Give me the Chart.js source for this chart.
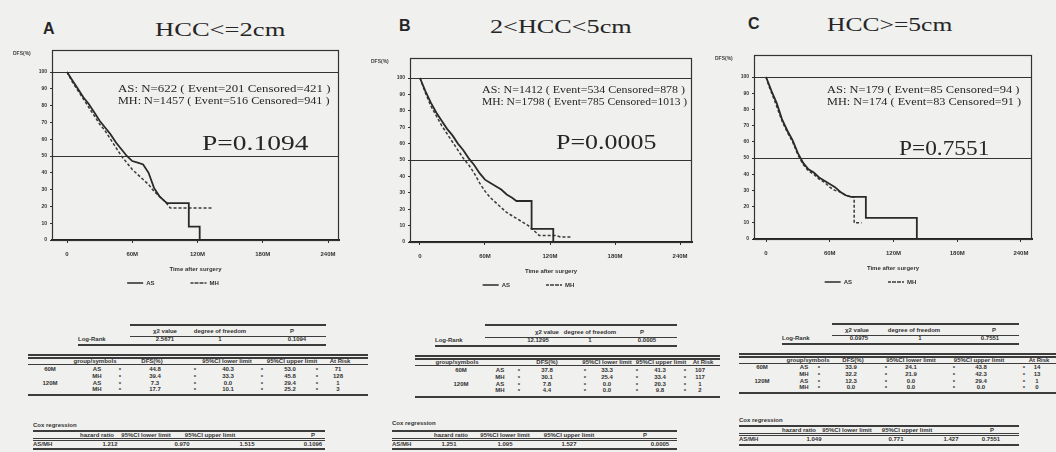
<!DOCTYPE html>
<html>
<head>
<meta charset="utf-8">
<script src="https://cdn.jsdelivr.net/npm/chart.js@4/dist/chart.umd.min.js"></script>
<style>
body { margin: 0; width: 1056px; height: 452px; overflow: hidden; position: relative; background: #f0f0ee; color: #262626; }
canvas { position: absolute; }
.t { position: absolute; white-space: nowrap; transform-origin: left center; }
.serif { font-family: "Liberation Serif", "Times New Roman", serif; }
.sans { font-family: "Liberation Sans", Arial, sans-serif; }
.tb { font-family: "Liberation Sans", Arial, sans-serif; font-weight: bold; color: #333; }
.rule { position: absolute; background: #3c3c3c; height: 1.5px; }
</style>
</head>
<body>
<canvas id="kmA"></canvas>
<canvas id="kmB"></canvas>
<canvas id="kmC"></canvas>
<script>
// ---- data ----
const xTicks = [0, 60, 120, 180, 240];
const xTickLabels = ['0', '60M', '120M', '180M', '240M'];
const yTicks = [0, 10, 20, 30, 40, 50, 60, 70, 80, 90, 100];
const refLines = [100, 50];
const groupNames = ['AS', 'MH'];
const panelLetters = ['A', 'B', 'C'];
const panelTitles = ['HCC<=2cm', '2<HCC<5cm', 'HCC>=5cm'];

// A: HCC<=2cm
const monthsA_AS = [0, 5, 10, 15, 20, 25, 30, 35, 40, 45, 50, 55, 60, 65, 70, 75, 80, 85, 90, 92, 112, 112, 122, 122];
const dfsA_AS    = [100, 95, 90, 85, 81, 76, 71, 67, 63, 58, 54, 50, 47, 46, 45, 40, 31, 26, 23, 22, 22, 8, 8, 0];
const monthsA_MH = [0, 5, 10, 15, 20, 25, 30, 35, 40, 45, 50, 55, 60, 65, 70, 75, 80, 85, 90, 95, 133];
const dfsA_MH    = [100, 94, 89, 84, 79, 74, 69, 65, 60, 55, 50, 46, 42, 39, 36, 33, 29, 26, 23, 19, 19];

// B: 2<HCC<5cm
const monthsB_AS = [0, 5, 10, 15, 20, 25, 30, 35, 40, 45, 50, 55, 60, 65, 70, 75, 80, 85, 89, 103, 103, 123, 123];
const dfsB_AS    = [100, 92, 85, 79, 74, 69, 65, 60, 56, 51, 47, 42, 38, 36, 34, 32, 29, 27, 25, 25, 8, 8, 0];
const monthsB_MH = [0, 5, 10, 15, 20, 25, 30, 35, 40, 45, 50, 55, 60, 65, 70, 75, 80, 85, 90, 95, 100, 105, 110, 125, 130, 140];
const dfsB_MH    = [100, 91, 83, 77, 71, 66, 61, 56, 51, 47, 42, 36, 31, 27, 24, 21, 18, 16, 14, 12, 10, 7, 4, 4, 3, 3];

// C: HCC>=5cm
const monthsC_AS = [0, 3, 6, 10, 15, 20, 25, 30, 35, 40, 45, 50, 55, 60, 65, 70, 75, 80, 94, 94, 142, 142];
const dfsC_AS    = [100, 95, 90, 84, 74, 67, 61, 53, 47, 43, 41, 38, 36, 34, 32, 29, 27, 26, 26, 13, 13, 0];
const monthsC_MH = [0, 3, 6, 10, 15, 20, 25, 30, 35, 40, 45, 50, 55, 60, 65, 70, 75, 80, 83, 83, 90];
const dfsC_MH    = [100, 94, 89, 82, 73, 66, 60, 52, 46, 42, 40, 37, 35, 32, 30, 29, 27, 26, 26, 10, 10];

const countLinesA = ['AS: N=622 ( Event=201  Censored=421 )', 'MH: N=1457 ( Event=516  Censored=941 )'];
const countLinesB = ['AS: N=1412 ( Event=534  Censored=878 )', 'MH: N=1798 ( Event=785  Censored=1013 )'];
const countLinesC = ['AS: N=179 ( Event=85  Censored=94 )', 'MH: N=174 ( Event=83  Censored=91 )'];
const pValues = ['P=0.1094', 'P=0.0005', 'P=0.7551'];

// tables under the curves
const logRankHeader = ['χ2 value', 'degree of freedom', 'P'];
const logRankA = ['Log-Rank', '2.5671', '1', '0.1094'];
const logRankB = ['Log-Rank', '12.1295', '1', '0.0005'];
const logRankC = ['Log-Rank', '0.0975', '1', '0.7551'];
const survHeader = ['group/symbols', 'DFS(%)', '95%CI lower limit', '95%CI upper limit', 'At Risk'];
const survA = [['60M', 'AS', '44.8', '40.3', '53.0', '71'], ['', 'MH', '39.4', '33.3', '45.8', '128'], ['120M', 'AS', '7.3', '0.0', '29.4', '1'], ['', 'MH', '17.7', '10.1', '25.2', '3']];
const survB = [['60M', 'AS', '37.8', '33.3', '41.3', '107'], ['', 'MH', '30.1', '25.4', '33.4', '117'], ['120M', 'AS', '7.8', '0.0', '20.3', '1'], ['', 'MH', '4.4', '0.0', '9.8', '2']];
const survC = [['60M', 'AS', '33.9', '24.1', '43.8', '14'], ['', 'MH', '32.2', '21.9', '42.3', '13'], ['120M', 'AS', '12.3', '0.0', '29.4', '1'], ['', 'MH', '0.0', '0.0', '0.0', '0']];
const coxTitle = 'Cox regression';
const coxHeader = ['hazard ratio', '95%CI lower limit', '95%CI upper limit', 'P'];
const coxA = ['AS/MH', '1.212', '0.970', '1.515', '0.1096'];
const coxB = ['AS/MH', '1.251', '1.095', '1.527', '0.0005'];
const coxC = ['AS/MH', '1.049', '0.771', '1.427', '0.7551'];

// ---- drawing ----
const ink = '#2a2a2a';

const framePlugin = {
    id: 'frame',
    beforeDatasetsDraw(chart) {
        const { ctx, chartArea: a, scales: { y } } = chart;
        ctx.save();
        ctx.strokeStyle = '#333';
        ctx.lineWidth = 1.2;
        ctx.strokeRect(a.left + 0.5, a.top + 0.5, a.width - 1, a.height);
        refLines.forEach(v => {
            const py = Math.round(y.getPixelForValue(v)) + 0.5;
            ctx.beginPath();
            ctx.moveTo(a.left, py);
            ctx.lineTo(a.right, py);
            ctx.stroke();
        });
        ctx.fillStyle = '#444';
        ctx.font = 'bold 5px "Liberation Sans"';
        ctx.textBaseline = 'middle';
        ctx.fillText('DFS(%)', a.left - 39, a.top + 4);
        ctx.restore();
    }
};

function pts(t, s) {
    return t.map((m, i) => ({ x: m, y: s[i] }));
}

function makeKM(id, box, asT, asS, mhT, mhS) {
    const yW = 45, padTop = 8, padRight = 12, xH = 34, legH = 22;
    const c = document.getElementById(id);
    c.width = box.r - box.l + yW + padRight;
    c.height = box.b - box.t + padTop + xH + legH;
    c.style.left = (box.l - yW) + 'px';
    c.style.top = (box.t - padTop) + 'px';
    const tickFont = { family: 'Liberation Sans', size: 5, weight: 'bold' };

    new Chart(c, {
        type: 'line',
        data: {
            datasets: [
                { label: groupNames[0], data: pts(asT, asS), borderColor: ink, backgroundColor: 'transparent', borderWidth: 1.8, pointRadius: 0, tension: 0 },
                { label: groupNames[1], data: pts(mhT, mhS), borderColor: '#3a3a3a', backgroundColor: 'transparent', borderWidth: 1.5, borderDash: [3, 2], pointRadius: 0, tension: 0 }
            ]
        },
        options: {
            responsive: false,
            animation: false,
            layout: { padding: { top: padTop, right: padRight, left: 0, bottom: 0 } },
            scales: {
                x: {
                    type: 'linear', min: box.xmin, max: box.xmax,
                    afterBuildTicks: s => { s.ticks = xTicks.map(v => ({ value: v })); },
                    afterFit: s => { s.height = xH; },
                    ticks: { callback: (v, i) => xTickLabels[i], font: { family: 'Liberation Sans', size: 6, weight: 'bold' }, color: '#333', padding: 8, maxRotation: 0, autoSkip: false },
                    grid: { drawOnChartArea: false, tickLength: 3, color: '#333' },
                    border: { color: '#222', width: 2 },
                    title: { display: true, text: 'Time after surgery', font: { family: 'Liberation Sans', size: 6, weight: 'bold' }, color: '#333', padding: { top: 0, bottom: 1 } }
                },
                y: {
                    min: 0, max: box.ymax,
                    afterBuildTicks: s => { s.ticks = yTicks.map(v => ({ value: v })); },
                    afterFit: s => { s.width = yW; },
                    ticks: { font: tickFont, color: '#333', padding: 3 },
                    grid: { drawOnChartArea: false, tickLength: 2, color: '#333' },
                    border: { color: '#333', width: 1 }
                }
            },
            plugins: {
                legend: {
                    position: 'bottom',
                    labels: {
                        boxWidth: 16, boxHeight: 0, color: '#333', padding: 6,
                        font: { family: 'Liberation Sans', size: 6, weight: 'bold' },
                        generateLabels: ch => Chart.defaults.plugins.legend.labels.generateLabels(ch).map((l, i) => {
                            l.fillStyle = 'transparent';
                            l.lineWidth = 1.3;
                            if (i === 0) l.text = l.text + '\u2003\u2003\u2003\u2003\u2003';
                            return l;
                        })
                    }
                },
                tooltip: { enabled: false }
            }
        },
        plugins: [framePlugin]
    });
}

makeKM('kmA', { l: 52, r: 339, t: 50, b: 240, xmin: -13.8, xmax: 250.1, ymax: 113.1 }, monthsA_AS, dfsA_AS, monthsA_MH, dfsA_MH);
makeKM('kmB', { l: 410, r: 692, t: 58, b: 242, xmin: -9.2, xmax: 251, ymax: 112.2 }, monthsB_AS, dfsB_AS, monthsB_MH, dfsB_MH);
makeKM('kmC', { l: 754, r: 1032, t: 55, b: 239, xmin: -11.3, xmax: 250.4, ymax: 113.6 }, monthsC_AS, dfsC_AS, monthsC_MH, dfsC_MH);

// ---- text around the plots ----
function text(str, x, yc, size, cls, targetW, center) {
    const d = document.createElement('div');
    d.className = 't ' + cls;
    d.textContent = str;
    d.style.fontSize = size + 'px';
    d.style.lineHeight = size + 'px';
    d.style.left = x + 'px';
    d.style.top = (yc - size / 2) + 'px';
    document.body.appendChild(d);
    let tf = '';
    if (center) tf += 'translateX(-50%) ';
    if (targetW) tf += 'scaleX(' + (targetW / d.offsetWidth).toFixed(3) + ')';
    d.style.transform = tf;
    return d;
}

function rule(x0, x1, y, h) {
    const d = document.createElement('div');
    d.className = 'rule';
    d.style.left = x0 + 'px';
    d.style.width = (x1 - x0) + 'px';
    d.style.top = y + 'px';
    if (h) d.style.height = h + 'px';
    document.body.appendChild(d);
}

const heads = [
    { lx: 43, ly: 29, tx: 155, tw: 130, ty: 29 },
    { lx: 399, ly: 26, tx: 490, tw: 142, ty: 26 },
    { lx: 748, ly: 24, tx: 827, tw: 125, ty: 24 }
];
heads.forEach((h, i) => {
    const l = text(panelLetters[i], h.lx, h.ly, 16, 'sans', 0);
    l.style.fontWeight = 'bold';
    text(panelTitles[i], h.tx, h.ty, 19, 'serif', h.tw);
});

const notes = [
    { lines: countLinesA, x: 118, y: [88, 100], w: [212, 212], px: 202, py: 143, pw: 106 },
    { lines: countLinesB, x: 482, y: [89, 101], w: [203, 205], px: 556, py: 142, pw: 100 },
    { lines: countLinesC, x: 827, y: [89, 101], w: [192, 194], px: 899, py: 148, pw: 90 }
];
notes.forEach((n, i) => {
    n.lines.forEach((s, j) => text(s, n.x, n.y[j], 11, 'serif', n.w[j]));
    text(pValues[i], n.px, n.py, 21, 'serif', n.pw);
});

// table geometry per panel
const tables = [
    {
        lr: { top: 324, hdr: 331, hr: 336, row: 340, bot: 344, x1: 130, x0: 78, x2: 326, hcols: [165, 220, 292], cols: [165, 220, 297] },
        sv: { top: 354, hdr: 361, hr: 364, rows: [369, 376, 383, 389], bot: 394, x0: 28, x2: 368, label: 50, grp: 97, hcols: [95, 152, 227, 292, 340], cols: [155, 228, 290, 338], stars: [120, 195, 262, 317] },
        cx: { title: 426, top: 430, hdr: 435, dbl: 438, row: 444, bot: 448, x0: 33, x2: 325, hcols: [97, 146, 210, 313], cols: [110, 182, 247, 313] },
        lr_: logRankA, sv_: survA, cx_: coxA
    },
    {
        lr: { top: 324, hdr: 332, hr: 337, row: 341, bot: 345, x1: 485, x0: 435, x2: 677, hcols: [547, 590, 642], cols: [538, 590, 647] },
        sv: { top: 355, hdr: 362, hr: 365, rows: [370, 377, 384, 390], bot: 396, x0: 415, x2: 720, label: 461, grp: 500, hcols: [457, 547, 607, 661, 703], cols: [547, 607, 660, 700], stars: [519, 585, 637, 685] },
        cx: { title: 424, top: 430, hdr: 435, dbl: 438, row: 444, bot: 448, x0: 392, x2: 677, hcols: [451, 505, 569, 645], cols: [449, 505, 569, 660] },
        lr_: logRankB, sv_: survB, cx_: coxB
    },
    {
        lr: { top: 323, hdr: 330, hr: 335, row: 339, bot: 343, x1: 832, x0: 782, x2: 1019, hcols: [857, 914, 994], cols: [859, 920, 990] },
        sv: { top: 353, hdr: 360, hr: 363, rows: [367, 374, 381, 387], bot: 392, x0: 739, x2: 1056, label: 762, grp: 804, hcols: [808, 853, 911, 979, 1039], cols: [851, 911, 981, 1037], stars: [819, 886, 954, 1024] },
        cx: { title: 421, top: 425, hdr: 430, dbl: 433, row: 439, bot: 444, x0: 739, x2: 1019, hcols: [799, 847, 907, 992], cols: [814, 896, 951, 991] },
        lr_: logRankC, sv_: survC, cx_: coxC
    }
];

const fs = 6;
tables.forEach(t => {
    // log-rank test
    const a = t.lr;
    rule(a.x1, a.x2, a.top);
    logRankHeader.forEach((h, i) => text(h, a.hcols[i], a.hdr, fs, 'tb', 0, true));
    rule(a.x1, a.x2, a.hr, 1);
    text(t.lr_[0], a.x0, a.row - 1, fs, 'tb', 0);
    t.lr_.slice(1).forEach((v, i) => text(v, a.cols[i], a.row - 1, fs, 'tb', 0, true));
    rule(a.x0, a.x2, a.bot);

    // survival at 60M / 120M
    const s = t.sv;
    rule(s.x0, s.x2, s.top);
    rule(s.x0, s.x2, s.top + 3);
    survHeader.forEach((h, i) => text(h, s.hcols[i], s.hdr, fs, 'tb', 0, true));
    rule(s.x0, s.x2, s.hr, 1);
    t.sv_.forEach((r, j) => {
        const y = s.rows[j];
        if (r[0]) text(r[0], s.label, y, fs, 'tb', 0, true);
        text(r[1], s.grp, y, fs, 'tb', 0, true);
        r.slice(2).forEach((v, i) => text(v, s.cols[i], y, fs, 'tb', 0, true));
        s.stars.forEach(x => text('*', x, y + 1, fs, 'tb', 0, true));
    });
    rule(s.x0, s.x2, s.bot);

    // cox regression
    const c = t.cx;
    text(coxTitle, c.x0, c.title - 1, fs, 'tb', 0);
    rule(c.x0, c.x2, c.top);
    coxHeader.forEach((h, i) => text(h, c.hcols[i], c.hdr, fs, 'tb', 0, true));
    rule(c.x0, c.x2, c.dbl, 1);
    rule(c.x0, c.x2, c.dbl + 2, 1);
    text(t.cx_[0], c.x0, c.row, fs, 'tb', 0);
    t.cx_.slice(1).forEach((v, i) => text(v, c.cols[i], c.row, fs, 'tb', 0, true));
    rule(c.x0, c.x2, c.bot);
});
</script>
</body>
</html>
